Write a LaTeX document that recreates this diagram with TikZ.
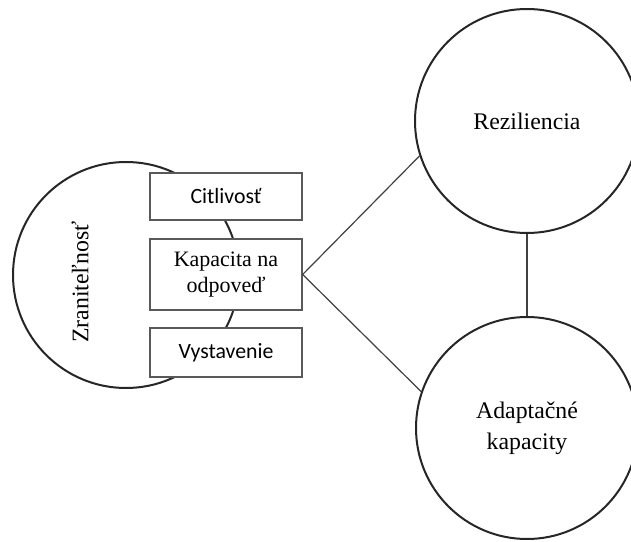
\documentclass[tikz,border=0pt]{standalone}
\usepackage{fontspec}
\setmainfont{Liberation Serif}
\newfontfamily\boxfont{Carlito}
\begin{document}
\begin{tikzpicture}[x=1pt,y=1pt,
  bigcircle/.style={circle,draw=black!85,line width=2pt,inner sep=0pt},
  itembox/.style={rectangle,draw=black!65,line width=1.3pt,fill=white,minimum width=152pt,align=center,inner sep=0pt},
  link/.style={draw=black!75,line width=1.2pt},
  serifx/.style={font=\fontsize{22}{26}\selectfont},
  serifbig/.style={font=\fontsize{23.8}{31}\selectfont},
  sansx/.style={font=\boxfont\fontsize{21.8}{25}\selectfont}]
\useasboundingbox (0,0) rectangle (631,541);
\node[bigcircle,minimum size=226pt] (zra) at (126,266) {};
\node[serifbig,rotate=90] (zratext) at (80,259) {Zraniteľnosť};
\node[itembox,sansx,minimum height=47pt] (cit) at (226,344.5) {Citlivosť};
\node[itembox,serifx,minimum height=71pt] (kap) at (226,266.5) {Kapacita na\\odpoveď};
\node[itembox,sansx,minimum height=49pt] (vys) at (226,188.5) {Vystavenie};
\node[bigcircle,minimum size=224pt,serifbig] (rez) at (527,420) {Reziliencia};
\node[bigcircle,minimum size=222pt,serifbig,align=center] (ada) at (527,113) {Adaptačné\\kapacity};
\draw[link] (kap.east) -- (rez.198);
\draw[link] (kap.east) -- (ada.161);
\draw[link] (rez.south) -- (ada.north);
\end{tikzpicture}
\end{document}
